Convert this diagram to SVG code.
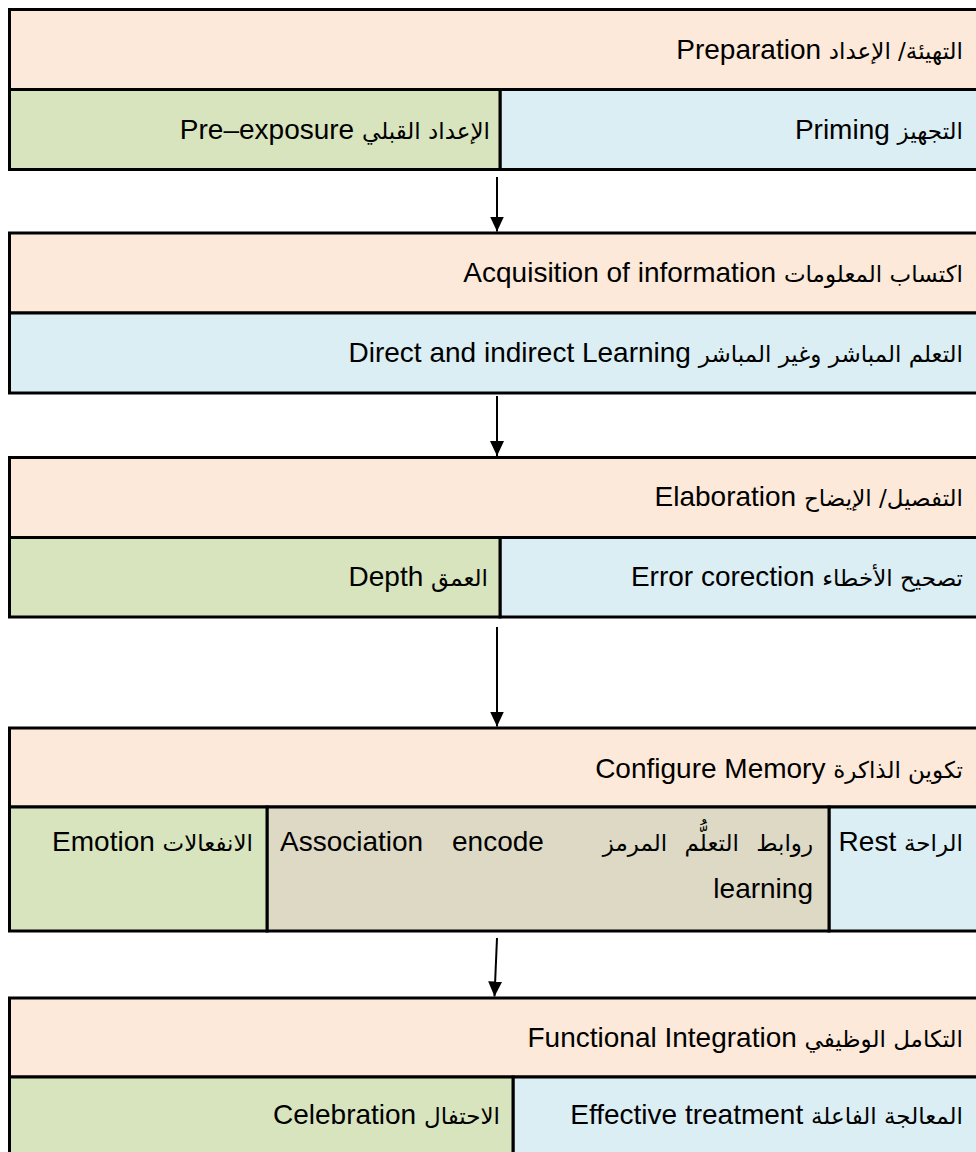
<svg xmlns="http://www.w3.org/2000/svg" width="976" height="1152" viewBox="0 0 976 1152">
<defs>
<style>
.c{stroke:#000;stroke-width:3}
.pe{fill:#FDE9D9}
.bl{fill:#DBEEF3}
.gr{fill:#D7E4BD}
.tn{fill:#DDD9C4}
.t{font-family:"Liberation Sans","DejaVu Sans",sans-serif;font-size:28px;fill:#000}
.a{font-family:"DejaVu Sans","Liberation Sans",sans-serif;font-size:23px}
.r{direction:rtl;unicode-bidi:embed;text-anchor:start}
.l{text-anchor:start}
.ar{stroke:#000;stroke-width:2;fill:none}
</style>
<marker id="ah" markerWidth="15" markerHeight="14" refX="15" refY="7" orient="auto" markerUnits="userSpaceOnUse" viewBox="0 0 15 14">
<path d="M0,0 L15,7 L0,14 Z" fill="#000"/>
</marker>
</defs>

<g id="preparation">
<g id="prep-header"><rect class="c pe" x="9.5" y="9.5" width="969" height="80"/>
<text class="t r" x="963" y="59"><tspan class="a">التهيئة/ الإعداد</tspan> Preparation</text></g>
<g id="priming"><rect class="c bl" x="500" y="89.5" width="478.5" height="80"/>
<text class="t r" x="963" y="139"><tspan class="a">التجهيز</tspan> Priming</text></g>
<g id="pre-exposure"><rect class="c gr" x="9.5" y="89.5" width="490.5" height="80"/>
<text class="t r" x="490" y="139"><tspan class="a">الإعداد القبلي</tspan> Pre–exposure</text></g>
</g>

<g id="acquisition">
<g id="acq-header"><rect class="c pe" x="9.5" y="233" width="969" height="80"/>
<text class="t r" x="963" y="282"><tspan class="a">اكتساب المعلومات</tspan> Acquisition of information</text></g>
<g id="direct-indirect"><rect class="c bl" x="9.5" y="313" width="969" height="80"/>
<text class="t r" x="963" y="362"><tspan class="a">التعلم المباشر وغير المباشر</tspan> Direct and indirect Learning</text></g>
</g>

<g id="elaboration">
<g id="elab-header"><rect class="c pe" x="9.5" y="457.5" width="969" height="80"/>
<text class="t r" x="963" y="506"><tspan class="a">التفصيل/ الإيضاح</tspan> Elaboration</text></g>
<g id="error-correction"><rect class="c bl" x="500" y="537.5" width="478.5" height="79.5"/>
<text class="t r" x="963" y="586"><tspan class="a">تصحيح الأخطاء</tspan> Error corection</text></g>
<g id="depth"><rect class="c gr" x="9.5" y="537.5" width="490.5" height="79.5"/>
<text class="t r" x="488" y="586"><tspan class="a">العمق</tspan> Depth</text></g>
</g>

<g id="memory">
<g id="mem-header"><rect class="c pe" x="9.5" y="728" width="969" height="79"/>
<text class="t r" x="963" y="778"><tspan class="a">تكوين الذاكرة</tspan> Configure Memory</text></g>
<g id="rest"><rect class="c bl" x="829" y="807" width="149.5" height="124"/>
<text class="t r" x="963" y="851"><tspan class="a">الراحة</tspan> Rest</text></g>
<g id="association"><rect class="c tn" x="267" y="807" width="562" height="124"/>
<text class="t l" x="280" y="851">Association</text>
<text class="t l" x="452" y="851">encode</text>
<text class="t r a" x="813" y="851" word-spacing="10">روابط التعلُّم المرمز</text>
<text class="t r" x="813" y="898">learning</text></g>
<g id="emotion"><rect class="c gr" x="9.5" y="807" width="257.5" height="124"/>
<text class="t r" x="253" y="851"><tspan class="a">الانفعالات</tspan> Emotion</text></g>
</g>

<g id="integration">
<g id="int-header"><rect class="c pe" x="9.5" y="998" width="969" height="79"/>
<text class="t r" x="963" y="1047"><tspan class="a">التكامل الوظيفي</tspan> Functional Integration</text></g>
<g id="effective"><rect class="c bl" x="513" y="1077" width="465.5" height="80"/>
<text class="t r" x="963" y="1124"><tspan class="a">المعالجة الفاعلة</tspan> Effective treatment</text></g>
<g id="celebration"><rect class="c gr" x="9.5" y="1077" width="503.5" height="80"/>
<text class="t r" x="500" y="1124"><tspan class="a">الاحتفال</tspan> Celebration</text></g>
</g>

<g id="connectors">
<line class="ar" x1="497" y1="177" x2="497" y2="231.5" marker-end="url(#ah)"/>
<line class="ar" x1="497" y1="396" x2="497" y2="456" marker-end="url(#ah)"/>
<line class="ar" x1="497" y1="627" x2="497" y2="726.5" marker-end="url(#ah)"/>
<line class="ar" x1="497" y1="938" x2="494.5" y2="996.5" marker-end="url(#ah)"/>
</g>
</svg>
